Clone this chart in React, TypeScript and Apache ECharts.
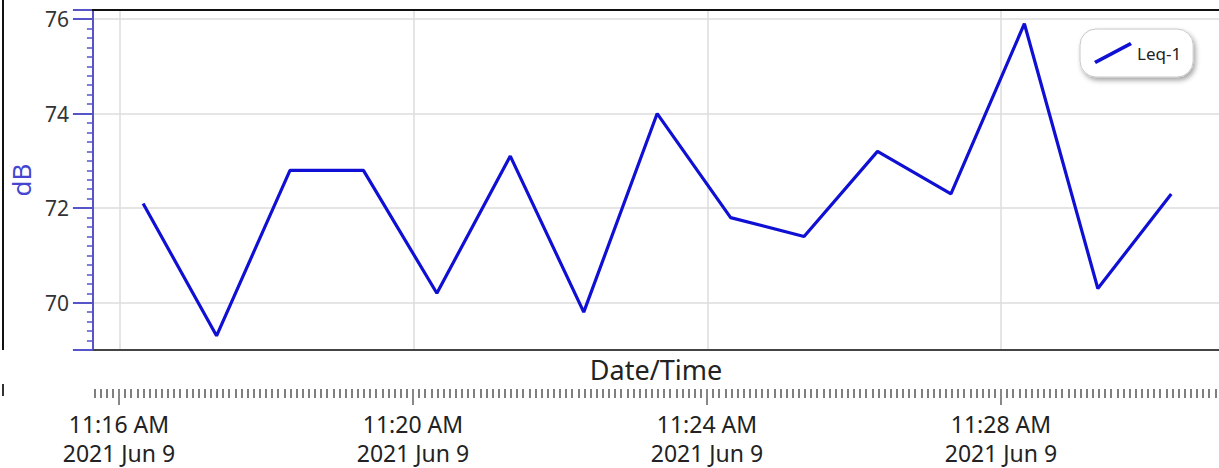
import React, { useEffect, useRef } from "react";
import * as echarts from "echarts";

const SERIES_NAME = "Leq-1";
const TIMES = [
  "11:16:19", "11:17:19", "11:18:19", "11:19:19", "11:20:19",
  "11:21:19", "11:22:19", "11:23:19", "11:24:19", "11:25:19",
  "11:26:19", "11:27:19", "11:28:19", "11:29:19", "11:30:19",
];
const VALUES = [72.1, 69.3, 72.8, 72.8, 70.2, 73.1, 69.8, 74.0, 71.8, 71.4, 73.2, 72.3, 75.9, 70.3, 72.3];
const GRID_TIMES = ["11:16:00", "11:20:00", "11:24:00", "11:28:00"];
const X_RANGE = ["11:15:38", "11:30:58"];
const Y_RANGE = [69.0, 76.19];
const DATE_PARTS = [2021, 5, 9];
const DATE_LABEL = "2021 Jun 9";
const Y_NAME = "dB";
const X_NAME = "Date/Time";

const toMs = (t: string) => {
  const [h, m, s] = t.split(":").map(Number);
  return Date.UTC(DATE_PARTS[0], DATE_PARTS[1], DATE_PARTS[2], h, m, s);
};

const fmt = (v: number) => {
  const d = new Date(v);
  const h = d.getUTCHours();
  const m = d.getUTCMinutes();
  const ap = h >= 12 ? "PM" : "AM";
  const h12 = h % 12 === 0 ? 12 : h % 12;
  return `${h12}:${String(m).padStart(2, "0")} ${ap}\n${DATE_LABEL}`;
};

const FONT = "'Noto Sans', 'Open Sans', sans-serif";

export default function App() {
  const ref = useRef<HTMLDivElement>(null);
  useEffect(() => {
    if (!ref.current) return;
    const chart = echarts.init(ref.current, undefined, { renderer: "svg" });
    const xMin = toMs(X_RANGE[0]);
    const xMax = toMs(X_RANGE[1]);
    const majors = GRID_TIMES.map(toMs);
    const minors: number[] = [];
    for (let t = Math.ceil(xMin / 5000) * 5000; t <= xMax; t += 5000) minors.push(t);
    const data = TIMES.map((t, i) => [toMs(t), VALUES[i]]);
    const axisBlue = "#5555c8";
    const lineBlue = "#1010d4";

    chart.setOption({
      animation: false,
      textStyle: { fontFamily: FONT },
      grid: [
        { left: 92, right: 0, top: 10, height: 340 },
        { left: 92, right: 0, top: 388, height: 1 },
      ],
      xAxis: [
        {
          type: "value",
          gridIndex: 0,
          position: "bottom",
          min: xMin,
          max: xMax,
          name: X_NAME,
          nameLocation: "middle",
          nameGap: 6,
          nameTextStyle: { fontSize: 27, color: "#222", fontFamily: FONT, verticalAlign: "top" },
          axisLine: { show: true, lineStyle: { color: "#444", width: 2 } },
          axisTick: { show: false, customValues: majors },
          axisLabel: { show: false },
          splitLine: { show: true, lineStyle: { color: "#dcdcdc", width: 1.5 } },
        },
        {
          type: "value",
          gridIndex: 1,
          position: "bottom",
          min: xMin,
          max: xMax,
          axisLine: { show: false },
          axisTick: { show: true, customValues: minors, length: 9, lineStyle: { color: "#555", width: 1.5 } },
          axisLabel: { show: false },
          splitLine: { show: false },
        },
        {
          type: "value",
          gridIndex: 1,
          position: "bottom",
          offset: 0,
          min: xMin,
          max: xMax,
          axisLine: { show: false },
          axisTick: { show: true, customValues: majors, length: 16, lineStyle: { color: "#888", width: 2 } },
          axisLabel: {
            show: true,
            customValues: majors,
            formatter: (v: number) => fmt(v),
            fontSize: 23,
            lineHeight: 29,
            color: "#222",
            margin: 20,
            fontFamily: FONT,
          },
          splitLine: { show: false },
        },
      ],
      yAxis: [
        {
          type: "value",
          gridIndex: 0,
          min: Y_RANGE[0],
          max: Y_RANGE[1],
          splitNumber: 3,
          name: Y_NAME,
          nameLocation: "middle",
          nameGap: 56,
          nameRotate: 90,
          nameTextStyle: { fontSize: 26, color: "#4545d0", fontFamily: FONT },
          axisLine: { show: true, lineStyle: { color: axisBlue, width: 2 } },
          axisTick: { show: true, length: 20, lineStyle: { color: axisBlue, width: 2 } },
          minorTick: { show: true, splitNumber: 10, length: 6, lineStyle: { color: axisBlue, width: 1.5 } },
          axisLabel: {
            fontSize: 21,
            color: "#333",
            margin: 24,
            showMinLabel: false,
            showMaxLabel: false,
            fontFamily: FONT,
          },
          splitLine: { show: true, lineStyle: { color: "#dcdcdc", width: 1.5 } },
        },
        { type: "value", gridIndex: 1, show: false },
      ],
      legend: {
        left: 1080,
        top: 29,
        selectedMode: false,
        data: [{ name: SERIES_NAME, icon: "path://M0,19L36,0L38,3L2,22Z" }],
        itemWidth: 38,
        itemHeight: 22,
        itemGap: 6,
        padding: [13, 12, 13, 14],
        backgroundColor: "#fff",
        borderColor: "#c8c8c8",
        borderWidth: 1,
        borderRadius: 16,
        shadowBlur: 5,
        shadowColor: "rgba(0,0,0,0.35)",
        shadowOffsetX: 2,
        shadowOffsetY: 3,
        textStyle: { fontSize: 17, color: "#222", fontFamily: FONT },
      },
      graphic: [
        { type: "line", shape: { x1: 3, y1: 0, x2: 3, y2: 350 }, style: { stroke: "#111", lineWidth: 2 } },
        { type: "line", shape: { x1: 3, y1: 384, x2: 3, y2: 396 }, style: { stroke: "#333", lineWidth: 2 } },
        { type: "line", shape: { x1: 92, y1: 10, x2: 1219, y2: 10 }, style: { stroke: "#111", lineWidth: 2 }, z: 10 },
      ],
      series: [
        {
          name: SERIES_NAME,
          type: "line",
          xAxisIndex: 0,
          yAxisIndex: 0,
          data,
          symbol: "none",
          showSymbol: false,
          color: lineBlue,
          lineStyle: { color: lineBlue, width: 3.2 },
          itemStyle: { color: lineBlue },
          z: 5,
        },
      ],
    });
    return () => chart.dispose();
  }, []);
  return (
    <div
      ref={ref}
      style={{ position: "absolute", left: 0, top: 0, width: 1219, height: 468, background: "#fff" }}
    />
  );
}
